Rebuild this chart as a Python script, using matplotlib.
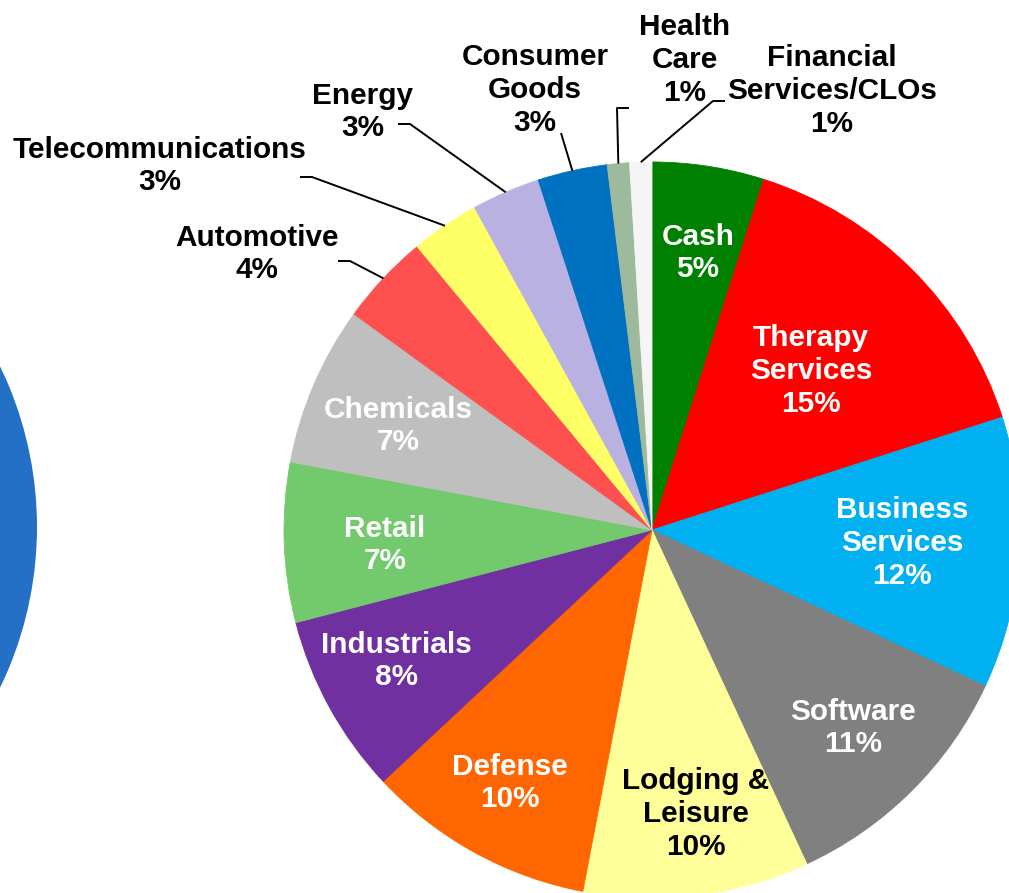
import matplotlib.pyplot as plt
import numpy as np

plt.rcParams['font.family'] = ['Liberation Sans', 'DejaVu Sans']
plt.rcParams['font.weight'] = 'bold'

# sector shares (percent), clockwise from 12 o'clock
sectors = ["Cash", "Therapy\nServices", "Business\nServices", "Software",
           "Lodging &\nLeisure", "Defense", "Industrials", "Retail",
           "Chemicals", "Automotive", "Telecommunications", "Energy",
           "Consumer\nGoods", "Health\nCare", "Financial\nServices/CLOs"]
shares = [4.9, 15.1, 11.9, 11.1, 9.9, 10.0, 7.9, 7.0, 7.0, 4.0, 3.0, 3.0,
          3.05, 0.97, 0.97]
colors = ["#008000", "#FF0000", "#00B0F0", "#808080", "#FFFF99", "#FF6600",
          "#7030A0", "#72CA6C", "#BFBFBF", "#FF5050", "#FFFF66", "#B8B1E2",
          "#0070C0", "#9DBB9C", "#F5F5F5"]
text_colors = ["white"] * 4 + ["black"] + ["white"] * 4 + ["black"] * 6

W, H = 1009, 893

# label centres in pixel coords (x from left, y from top)
label_pos = [(698, 253), (811, 371), (902, 543), (853, 728), (696, 814),
             (510, 783), (396, 661), (385, 545), (398, 426), (257, 254),
             (160, 166), (363, 112), (535, 90), (685, 60), (832, 91)]
# leader elbows for the outside labels (index -> points from label side)
leaders = {9: [(338, 261), (350, 261)],
           10: [(300, 177), (312, 177)],
           11: [(398, 124), (410, 124)],
           12: [(561, 133)],
           13: [(629, 108), (617, 108)],
           14: [(725, 101), (713, 101)]}

fig = plt.figure(figsize=(W / 100, H / 100), dpi=100)
ax = fig.add_axes([0, 0, 1, 1])

cx, cy, r = 652, H - 530, 368

# piece of the neighbouring chart cut off at the left edge
ax.pie([100], colors=["#2470C7"], center=(-331, H - 527), radius=368,
       frame=True, wedgeprops=dict(linewidth=0))

wedges, _ = ax.pie(shares, colors=colors, startangle=90, counterclock=False,
                   center=(cx, cy), radius=r, frame=True,
                   wedgeprops=dict(linewidth=0.6, edgecolor="none"))
for w, c in zip(wedges, colors):
    w.set_edgecolor(c)

for i, (name, v) in enumerate(zip(sectors, shares)):
    x, y = label_pos[i]
    ax.text(x, H - y, f"{name}\n{v:.0f}%", ha="center", va="center",
            fontsize=21.4, fontweight="bold", color=text_colors[i],
            linespacing=1.22)

for i, pts in leaders.items():
    w = wedges[i]
    mid = np.deg2rad((w.theta1 + w.theta2) / 2)
    ex, ey = cx + r * np.cos(mid), cy + r * np.sin(mid)
    xs = [p[0] for p in pts] + [ex]
    ys = [H - p[1] for p in pts] + [ey]
    ax.plot(xs, ys, color="black", lw=1.4, solid_capstyle="butt")

ax.set_xlim(0, W)
ax.set_ylim(0, H)
ax.set_aspect("equal")
ax.axis("off")

fig.savefig("out.png", dpi=100)
